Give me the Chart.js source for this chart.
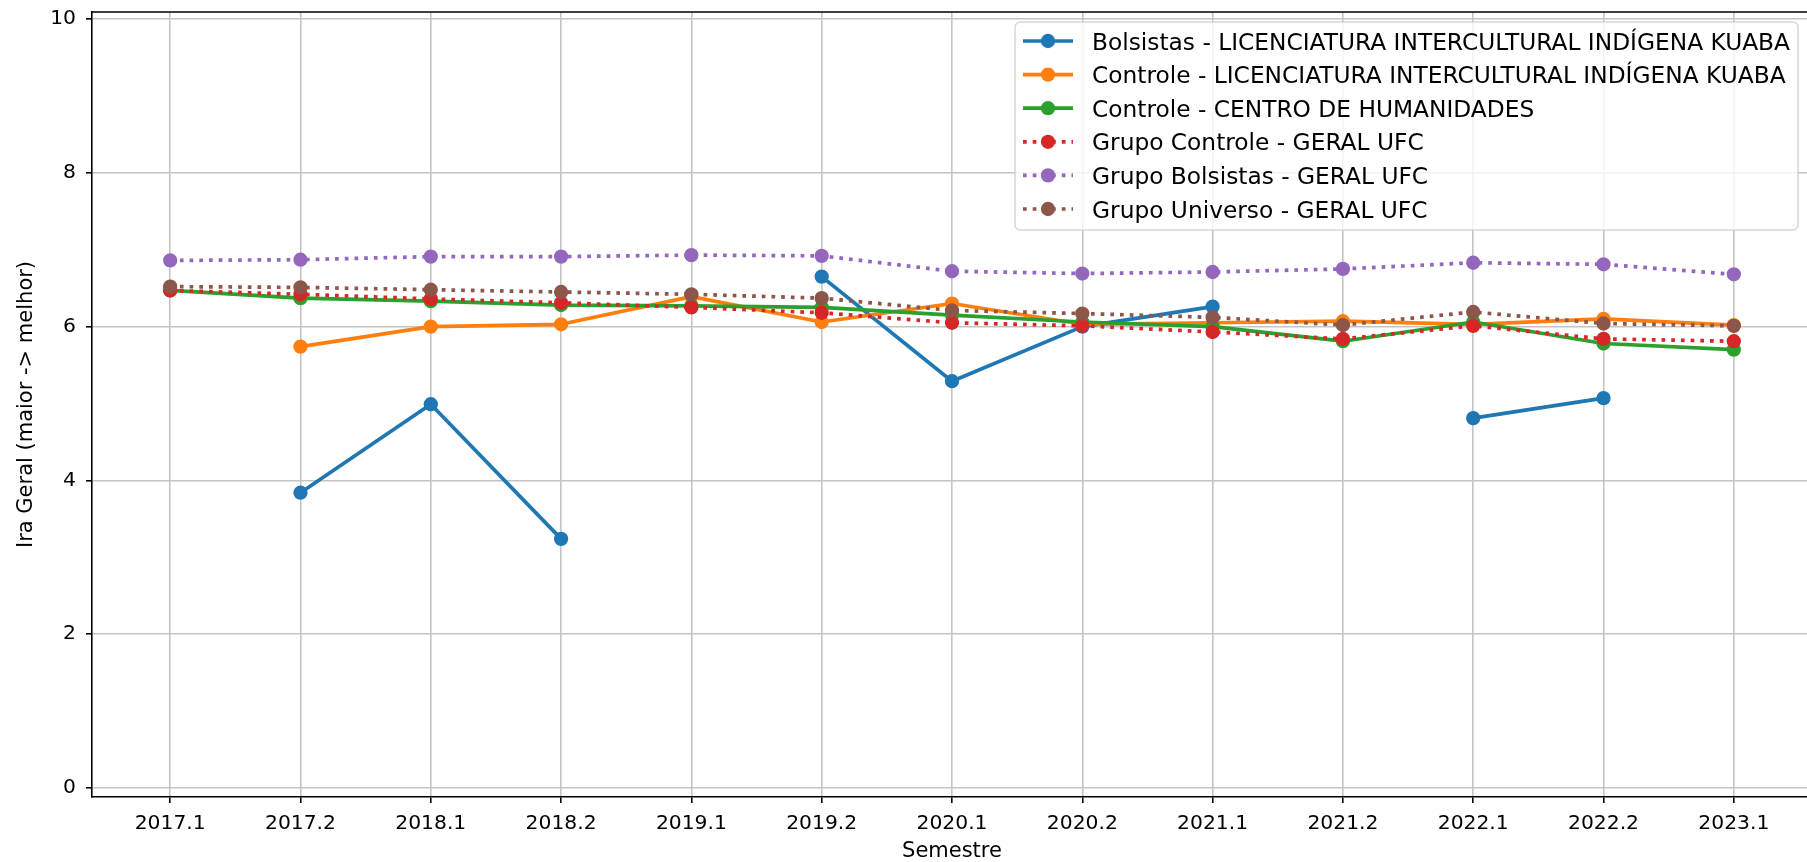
<!DOCTYPE html>
<html lang="pt-BR">
<head>
<meta charset="utf-8">
<title>Ira Geral por semestre</title>
<script src="https://cdn.jsdelivr.net/npm/chart.js@4.4.1/dist/chart.umd.min.js"></script>
<style>
    html, body { margin: 0; padding: 0; background: #fff; overflow: hidden; }
    #wrap { width: 1830px; height: 862px; }
</style>
</head>
<body>
<div id="wrap"><canvas id="myChart" width="1830" height="862"></canvas></div>
<script>
// --- Data ---
const semesters = ["2017.1", "2017.2", "2018.1", "2018.2", "2019.1", "2019.2", "2020.1",
                   "2020.2", "2021.1", "2021.2", "2022.1", "2022.2", "2023.1"];
const yTicks = [0, 2, 4, 6, 8, 10];

const bolsistasKuaba   = [null, 3.84, 4.99, 3.24, null, 6.65, 5.29, 6.00, 6.26, null, 4.81, 5.07, null];
const controleKuaba    = [null, 5.74, 6.00, 6.03, 6.39, 6.06, 6.30, 6.03, 6.05, 6.07, 6.03, 6.10, 6.02];
const controleCH       = [6.47, 6.37, 6.33, 6.28, 6.27, 6.25, 6.15, 6.06, 6.00, 5.81, 6.06, 5.78, 5.70];
const grupoControle    = [6.47, 6.42, 6.36, 6.31, 6.25, 6.18, 6.05, 6.01, 5.93, 5.84, 6.01, 5.84, 5.81];
const grupoBolsistas   = [6.86, 6.87, 6.91, 6.91, 6.93, 6.92, 6.72, 6.69, 6.71, 6.75, 6.83, 6.81, 6.68];
const grupoUniverso    = [6.52, 6.51, 6.48, 6.45, 6.42, 6.37, 6.21, 6.17, 6.12, 6.02, 6.19, 6.04, 6.01];

const seriesLabels = [
    "Bolsistas - LICENCIATURA INTERCULTURAL INDÍGENA KUABA",
    "Controle - LICENCIATURA INTERCULTURAL INDÍGENA KUABA",
    "Controle - CENTRO DE HUMANIDADES",
    "Grupo Controle - GERAL UFC",
    "Grupo Bolsistas - GERAL UFC",
    "Grupo Universo - GERAL UFC"
];
const seriesValues = [bolsistasKuaba, controleKuaba, controleCH, grupoControle, grupoBolsistas, grupoUniverso];

// --- Styles ---
const seriesColors = ["#1f77b4", "#ff7f0e", "#2ca02c", "#d62728", "#9467bd", "#8c564b"];
const seriesDotted = [false, false, false, true, true, true];
const LINE_WIDTH = 3.7;
const DOTS = [3.7, 6.0];
const POINT_R = 6.4;
const FONT = '"DejaVu Sans", sans-serif';

Chart.defaults.font.family = FONT;
Chart.defaults.font.size = 20.3;
Chart.defaults.color = "#000";

function makeDataset(i) {
    const color = seriesColors[i];
    return {
        label: seriesLabels[i],
        data: seriesValues[i].map((v, idx) => ({ x: idx, y: v })),
        borderColor: color,
        backgroundColor: color,
        borderWidth: LINE_WIDTH,
        borderDash: seriesDotted[i] ? DOTS : [],
        borderJoinStyle: "round",
        pointRadius: POINT_R,
        pointBorderWidth: 1.5,
        pointBackgroundColor: color,
        pointBorderColor: color,
        pointHoverRadius: POINT_R,
        spanGaps: false,
        tension: 0,
        order: seriesValues.length - i  // later series drawn on top, like matplotlib
    };
}

// --- Legend and top/right spines, drawn by hand ---
function drawLegend(chart) {
    const ctx = chart.ctx;
    const box = { left: 1015, top: 22, right: 1798, bottom: 230 };
    ctx.save();
    ctx.beginPath();
    ctx.roundRect(box.left, box.top, box.right - box.left, box.bottom - box.top, 5);
    ctx.fillStyle = "rgba(255,255,255,0.8)";
    ctx.fill();
    ctx.strokeStyle = "rgba(204,204,204,0.8)";
    ctx.lineWidth = 1.5;
    ctx.stroke();

    chart.data.datasets.forEach((ds, i) => {
        const y = 41 + i * 33.6;
        ctx.strokeStyle = ds.borderColor;
        ctx.lineWidth = ds.borderWidth;
        ctx.lineCap = "butt";
        ctx.setLineDash(ds.borderDash);
        ctx.beginPath();
        ctx.moveTo(1023, y);
        ctx.lineTo(1073, y);
        ctx.stroke();
        ctx.setLineDash([]);

        ctx.beginPath();
        ctx.arc(1048, y, POINT_R + 0.75, 0, Math.PI * 2);
        ctx.fillStyle = ds.backgroundColor;
        ctx.fill();

        ctx.fillStyle = "#000";
        ctx.font = "23.3px " + FONT;
        ctx.textBaseline = "alphabetic";
        ctx.textAlign = "left";
        ctx.fillText(ds.label, 1092, y + 8.5);
    });
    ctx.restore();
}

const framePlugin = {
    id: "frameAndLegend",
    afterDatasetsDraw(chart) {
        const { ctx, chartArea } = chart;
        ctx.save();
        ctx.strokeStyle = "#000";
        ctx.lineWidth = 1.6;
        ctx.beginPath();
        ctx.moveTo(chartArea.left, chartArea.top);
        ctx.lineTo(chartArea.right, chartArea.top);
        ctx.lineTo(chartArea.right, chartArea.bottom);
        ctx.stroke();
        ctx.restore();
        drawLegend(chart);
    }
};

const gridStyle = { color: "#c4c4c4", lineWidth: 1.6, tickColor: "#000", tickLength: 6, tickWidth: 1.6 };

new Chart(document.getElementById("myChart").getContext("2d"), {
    type: "line",
    data: { datasets: seriesValues.map((_, i) => makeDataset(i)) },
    options: {
        responsive: false,
        animation: false,
        events: [],
        layout: { padding: { top: 12, right: 18, bottom: 0, left: 0 } },
        plugins: { legend: { display: false }, tooltip: { enabled: false } },
        scales: {
            x: {
                type: "linear",
                min: -0.6,
                max: 12.6,
                afterBuildTicks: (scale) => { scale.ticks = semesters.map((_, i) => ({ value: i })); },
                afterFit: (scale) => {
                    scale.height = 65;
                    scale.paddingLeft = 0;
                    scale.paddingRight = 0;
                },
                ticks: { callback: (value) => semesters[value], padding: 9, maxRotation: 0, autoSkip: false },
                grid: gridStyle,
                border: { color: "#000", width: 1.6 },
                title: { display: true, text: "Semestre", font: { size: 21 }, padding: { top: 0, bottom: -2 } }
            },
            y: {
                type: "linear",
                min: -0.117,
                max: 10.091,
                afterBuildTicks: (scale) => { scale.ticks = yTicks.map((v) => ({ value: v })); },
                afterFit: (scale) => {
                    scale.width = 92;
                    scale.paddingTop = 0;
                    scale.paddingBottom = 0;
                },
                ticks: { padding: 10 },
                grid: gridStyle,
                border: { color: "#000", width: 1.6 },
                title: { display: true, text: "Ira Geral (maior -> melhor)", font: { size: 21 }, padding: { top: 14, bottom: 0 } }
            }
        }
    },
    plugins: [framePlugin]
});
</script>
</body>
</html>
